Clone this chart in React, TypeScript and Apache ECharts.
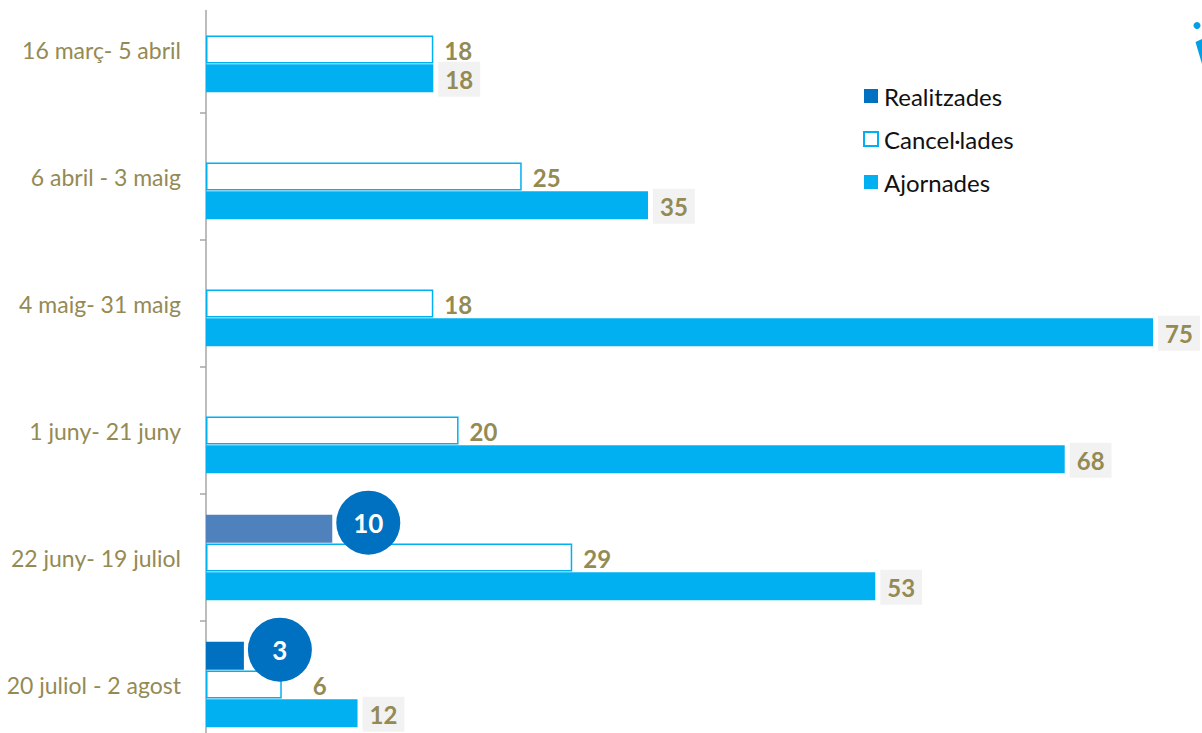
import React, { useEffect, useRef } from "react";
import * as echarts from "echarts";

const categories = [
  "16 març- 5 abril",
  "6 abril - 3 maig",
  "4 maig- 31 maig",
  "1 juny- 21 juny",
  "22 juny- 19 juliol",
  "20 juliol - 2 agost",
];
const realitzades: (number | null)[] = [null, null, null, null, 10, 3];
const realitzadesColors = ["#0070C0", "#0070C0", "#0070C0", "#0070C0", "#4F81BD", "#0070C0"];
const cancelades = [18, 25, 18, 20, 29, 6];
const ajornades = [18, 35, 75, 68, 53, 12];

const FONT = "Lato, 'Open Sans', sans-serif";
const OLIVE = "#948A54";
const SHIFT = 14; // chart canvas starts 14px above the page

export default function App() {
  const ref = useRef<HTMLDivElement>(null);
  useEffect(() => {
    if (!ref.current) return;
    const chart = echarts.init(ref.current, undefined, { renderer: "svg" });
    chart.setOption({
      animation: false,
      backgroundColor: "#ffffff",
      textStyle: { fontFamily: FONT },
      grid: { left: 206, right: 11, top: 0, bottom: 0, containLabel: false },
      legend: {
        orient: "vertical",
        left: 858,
        top: 79 + SHIFT,
        itemWidth: 14,
        itemHeight: 14,
        itemGap: 19,
        icon: "rect",
        textStyle: { fontSize: 24, color: "#111", fontFamily: FONT, padding: [0, 0, 0, 1] },
        data: ["Realitzades", "Cancel·lades", "Ajornades"],
      },
      xAxis: {
        type: "value",
        min: 0,
        max: 78,
        show: false,
        splitLine: { show: false },
      },
      yAxis: {
        type: "category",
        inverse: true,
        data: categories,
        axisLine: { show: true, lineStyle: { color: "#A6A6A6", width: 1.5 } },
        axisTick: { show: true, length: 6, lineStyle: { color: "#A6A6A6", width: 1.5 } },
        axisLabel: { color: OLIVE, fontSize: 23, margin: 25, fontFamily: FONT },
      },
      series: [
        {
          name: "Realitzades",
          type: "bar",
          barWidth: 28,
          barGap: "3%",
          itemStyle: { color: "#0070C0" },
          data: realitzades.map((v, i) => ({
            value: v,
            itemStyle: { color: realitzadesColors[i] },
          })),
          label: {
            show: true,
            position: "right",
            distance: 36,
            offset: [0, -6],
            width: 64,
            height: 64,
            lineHeight: 64,
            align: "center",
            backgroundColor: "#0070C0",
            borderRadius: 32,
            color: "#ffffff",
            fontWeight: "bold",
            fontSize: 26,
            fontFamily: FONT,
            formatter: (p: any) => (p.value == null ? "" : String(p.value)),
          },
          z: 3,
        },
        {
          name: "Cancel·lades",
          type: "bar",
          barWidth: 28,
          barGap: "3%",
          itemStyle: { color: "#ffffff", borderColor: "#00B0F0", borderWidth: 1.5 },
          data: cancelades.map((v, i) =>
            realitzades[i] != null && i === categories.length - 1
              ? { value: v, label: { offset: [20, 1] } }
              : v
          ),
          label: {
            show: true,
            position: "right",
            distance: 11,
            offset: [0, 1],
            color: OLIVE,
            fontWeight: "bold",
            fontSize: 24,
            fontFamily: FONT,
          },
          z: 2,
        },
        {
          name: "Ajornades",
          type: "bar",
          barWidth: 28,
          barGap: "3%",
          itemStyle: { color: "#00B0F0" },
          data: ajornades,
          label: {
            show: true,
            position: "right",
            distance: 5,
            offset: [0, 1],
            color: OLIVE,
            fontWeight: "bold",
            fontSize: 24,
            fontFamily: FONT,
            backgroundColor: "#F2F2F2",
            padding: [6, 7, 5, 7],
          },
          z: 2,
        },
      ],
      graphic: [
        { type: "rect", shape: { x: 198, y: 0, width: 14, height: 10 + SHIFT }, style: { fill: "#ffffff" }, z: 100 },
        { type: "circle", shape: { cx: 1197, cy: 25.5 + SHIFT, r: 3.5 }, style: { fill: "#00A0E6" }, z: 100 },
        {
          type: "polygon",
          shape: { points: [[1195.5, 42 + SHIFT], [1202, 39 + SHIFT], [1202, 64 + SHIFT]] },
          style: { fill: "#00A0E6" },
          z: 100,
        },
      ],
    });
    return () => chart.dispose();
  }, []);
  return (
    <div style={{ position: "absolute", left: 0, top: 0, width: 1202, height: 733, overflow: "hidden" }}>
      <div
        ref={ref}
        style={{ position: "absolute", left: 0, top: -SHIFT, width: 1202, height: 762 }}
      />
    </div>
  );
}
